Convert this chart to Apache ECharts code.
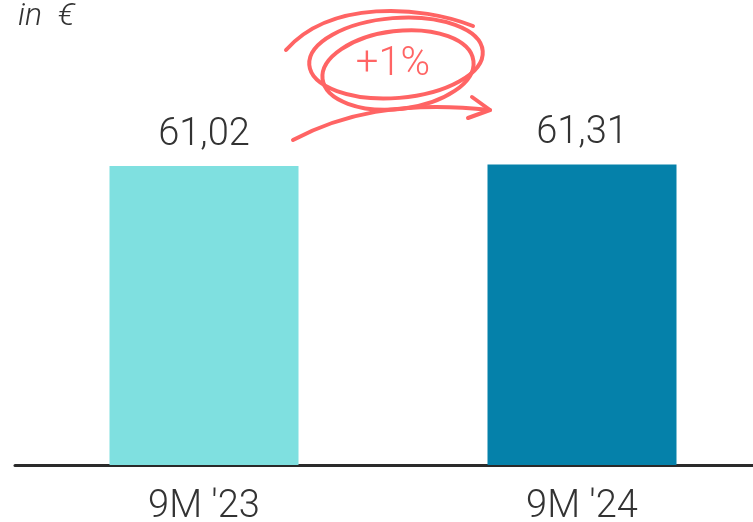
<!DOCTYPE html>
<html><head><meta charset="utf-8">
<script src="https://cdn.jsdelivr.net/npm/echarts@6/dist/echarts.min.js"></script>
<style>html,body{margin:0;padding:0;background:#fff}#c{width:753px;height:522px}</style>
</head><body><div id="c"></div>
<script>
const categories = ["9M '23", "9M '24"];
const values = [61.02, 61.31];
const valueLabels = ["61,02", "61,31"];
const barColors = ["#7fe0e0", "#0581aa"];
const unitLabel = "in  €";
const changeLabel = "+1%";

const FONT = "'Roboto', sans-serif";
const RED = "#ff6464";
const chart = echarts.init(document.getElementById('c'));
chart.setOption({
  animation: false,
  grid: {left: 15, width: 756, top: 122, bottom: 57, outerBoundsMode: 'none', containLabel: false},
  xAxis: {
    type: 'category', data: categories,
    axisLine: {lineStyle: {color: '#2a2a2a', width: 3}},
    axisTick: {show: false},
    axisLabel: {fontFamily: FONT, fontWeight: 300, fontSize: 38, color: '#333', margin: 23}
  },
  yAxis: {type: 'value', min: 0, max: 70, show: false, splitLine: {show: false}},
  series: [{
    type: 'bar', barWidth: '50%',
    data: values.map((v, i) => ({value: v, itemStyle: {color: barColors[i]}})),
    label: {show: true, position: 'top', distance: 12, fontFamily: FONT, fontWeight: 300, fontSize: 38, color: '#333',
      formatter: p => valueLabels[p.dataIndex]}
  }],
  graphic: [
    {type: 'text', left: 18, top: 1, style: {text: unitLabel, font: "italic 300 32px " + FONT, fill: '#333'}},
    {type: 'text', x: 393, y: 65, style: {text: changeLabel, font: "300 40px " + FONT, fill: RED, align: 'center', verticalAlign: 'middle'}},
    {type: 'bezierCurve', shape: {x1: 286, y1: 50, x2: 473, y2: 26, cpx1: 330, cpy1: 0, cpx2: 420, cpy2: 5}, style: {stroke: RED, lineWidth: 4, fill: null, lineCap: 'round'}},
    {type: 'ellipse', shape: {cx: 396, cy: 58, rx: 87, ry: 40}, rotation: 0.08, originX: 396, originY: 58, style: {stroke: RED, lineWidth: 4, fill: null}},
    {type: 'ellipse', shape: {cx: 398, cy: 70, rx: 76, ry: 39}, rotation: 0.12, originX: 398, originY: 70, style: {stroke: RED, lineWidth: 4, fill: null}},
    {type: 'bezierCurve', shape: {x1: 293, y1: 140, x2: 490, y2: 110, cpx1: 340, cpy1: 115, cpx2: 400, cpy2: 100}, style: {stroke: RED, lineWidth: 4, fill: null, lineCap: 'round'}},
    {type: 'polyline', shape: {points: [[472, 97], [490, 110], [468, 118]]}, style: {stroke: RED, lineWidth: 4, fill: null, lineCap: 'round', lineJoin: 'round'}}
  ]
});
</script></body></html>
